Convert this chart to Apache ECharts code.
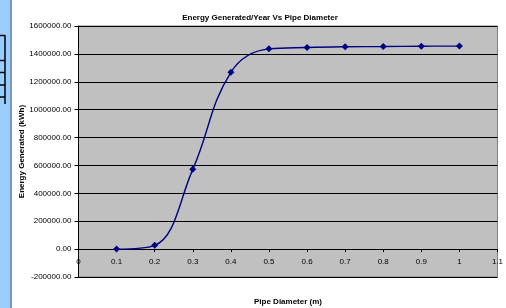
<!DOCTYPE html>
<html><head><meta charset="utf-8">
<script src="https://cdn.jsdelivr.net/npm/echarts@6/dist/echarts.min.js"></script>
<style>html,body{margin:0;padding:0;background:#fff}#c{width:506px;height:308px}</style>
</head><body><div id="c"></div>
<script>
const pipeDiameter = [0.1, 0.2, 0.3, 0.4, 0.5, 0.6, 0.7, 0.8, 0.9, 1.0];
const energyGenerated = [0, 27000, 572000, 1268000, 1436000, 1446000, 1451000, 1453000, 1455000, 1456000];
const chartTitle = 'Energy Generated/Year Vs Pipe Diameter';
const xTitle = 'Pipe Diameter (m)';
const yTitle = 'Energy Generated (kWh)';

const yMin = -200000, yMax = 1600000;
const gridTop = 26, gridBottom = 31, H = 308;
const plotH = H - gridTop - gridBottom;
const zeroOffset = -plotH * (0 - yMin) / (yMax - yMin);

const chart = echarts.init(document.getElementById('c'), null, {renderer: 'canvas'});
const font = 'Liberation Sans, Arial, sans-serif';
chart.setOption({
  animation: false,
  backgroundColor: '#ffffff',
  title: {
    text: chartTitle, left: 255, top: 9, textAlign: 'center',
    textStyle: {fontFamily: font, fontSize: 8, fontWeight: 'bold', color: '#000'}
  },
  grid: {
    left: 78.5, right: 8.5, top: gridTop, bottom: gridBottom, show: true,
    outerBoundsMode: 'none', containLabel: false,
    backgroundColor: '#C0C0C0', borderColor: '#808080', borderWidth: 1
  },
  xAxis: {
    type: 'value', min: 0, max: 1.1, interval: 0.1,
    offset: zeroOffset,
    name: xTitle, nameLocation: 'middle', nameGap: 49, nameMoveOverlap: false,
    nameTextStyle: {fontFamily: font, fontSize: 8, fontWeight: 'bold', color: '#000'},
    axisLine: {onZero: false, lineStyle: {color: '#000', width: 1}},
    axisTick: {show: true, length: 3, lineStyle: {color: '#000'}},
    axisLabel: {fontFamily: font, fontSize: 8, color: '#000', margin: 9,
      formatter: v => String(Math.round(v * 10) / 10)},
    splitLine: {show: false}
  },
  yAxis: {
    type: 'value', min: yMin, max: yMax, interval: 200000,
    name: yTitle, nameLocation: 'middle', nameGap: 53, nameRotate: 90, nameMoveOverlap: false,
    nameTextStyle: {fontFamily: font, fontSize: 8, fontWeight: 'bold', color: '#000'},
    axisLine: {show: true, lineStyle: {color: '#000', width: 1}},
    axisTick: {show: true, length: 4, lineStyle: {color: '#000'}},
    axisLabel: {fontFamily: font, fontSize: 8, color: '#000', margin: 7,
      formatter: v => v.toFixed(2)},
    splitLine: {show: true, lineStyle: {color: '#000', width: 1}}
  },
  series: [{
    type: 'line', smooth: 0.4,
    data: pipeDiameter.map((x, i) => [x, energyGenerated[i]]),
    lineStyle: {color: '#000080', width: 1.4},
    itemStyle: {color: '#000080'},
    symbol: 'diamond', symbolSize: 7, showSymbol: true
  }],
  graphic: [
    {type: 'rect', shape: {x: 0, y: 0, width: 10.5, height: 308}, style: {fill: '#99CCFF'}, silent: true},
    {type: 'line', shape: {x1: 11, y1: 0, x2: 11, y2: 308}, style: {stroke: '#5B7896', lineWidth: 1.5}, silent: true},
    {type: 'line', shape: {x1: 5, y1: 35, x2: 5, y2: 104}, style: {stroke: '#000', lineWidth: 1.5}, silent: true},
    {type: 'line', shape: {x1: 0, y1: 35.5, x2: 5, y2: 35.5}, style: {stroke: '#000', lineWidth: 1.5}, silent: true},
    {type: 'line', shape: {x1: 0, y1: 60.5, x2: 5, y2: 60.5}, style: {stroke: '#000', lineWidth: 1.5}, silent: true},
    {type: 'line', shape: {x1: 0, y1: 72.5, x2: 5, y2: 72.5}, style: {stroke: '#000', lineWidth: 1.5}, silent: true},
    {type: 'line', shape: {x1: 0, y1: 85, x2: 5, y2: 85}, style: {stroke: '#000', lineWidth: 1.5}, silent: true},
    {type: 'line', shape: {x1: 0, y1: 97, x2: 5, y2: 97}, style: {stroke: '#000', lineWidth: 1.5}, silent: true}
  ]
});
</script></body></html>
